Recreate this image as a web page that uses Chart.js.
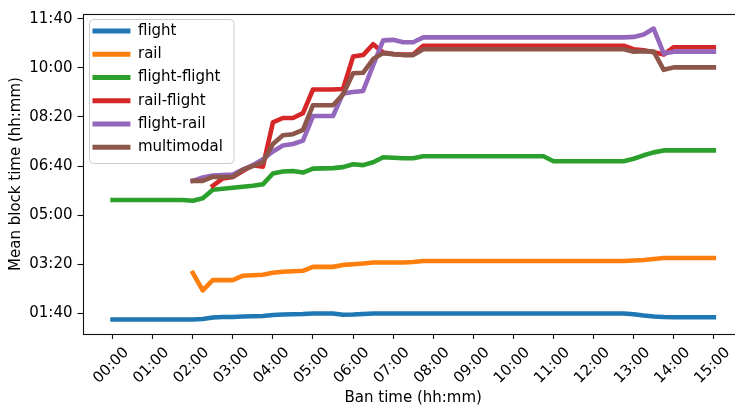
<!DOCTYPE html>
<html>
<head>
<meta charset="utf-8">
<script src="https://cdn.jsdelivr.net/npm/chart.js@4/dist/chart.umd.min.js"></script>
<style>
html,body{margin:0;padding:0;background:#fff;overflow:hidden;width:735px;height:408px}
canvas{display:block}
</style>
</head>
<body>
<canvas id="c" width="750" height="408"></canvas>
<script>
// ---- data ----
const banTimes = [
 '00:00','00:15','00:30','00:45','01:00','01:15','01:30','01:45',
 '02:00','02:15','02:30','02:45','03:00','03:15','03:30','03:45',
 '04:00','04:15','04:30','04:45','05:00','05:15','05:30','05:45',
 '06:00','06:15','06:30','06:45','07:00','07:15','07:30','07:45',
 '08:00','08:15','08:30','08:45','09:00','09:15','09:30','09:45',
 '10:00','10:15','10:30','10:45','11:00','11:15','11:30','11:45',
 '12:00','12:15','12:30','12:45','13:00','13:15','13:30','13:45',
 '14:00','14:15','14:30','14:45','15:00'
];
// mean block time in minutes
const flight = [
 88,88,88,88, 88,88,88,88,
 88,89,92,93, 93,94,94.5,95,
 97,98,98.5,99, 100,100,100,97.5,
 98,99,100,100, 100,100,100,100,
 100,100,100,100, 100,100,100,100,
 100,100,100,100, 100,100,100,100,
 100,100,100,100, 98.5,96,94,93,
 92.5,92.5,92.5,92.5, 92.5
];
const rail = [
 null,null,null,null, null,null,null,null,
 183,147,168,168, 168,177,178,179,
 183,185,186,187, 195,195,195,199,
 200.5,202,204,204, 204,204,205,207,
 207,207,207,207, 207,207,207,207,
 207,207,207,207, 207,207,207,207,
 207,207,207,207, 208,209,211,213,
 213,213,213,213, 213
];
const flightFlight = [
 331,331,331,331, 331,331,331,331,
 329.5,334.5,352,354, 356,358,360,363,
 385,389,390,387, 395,395.5,396,398,
 404,402,408,418, 417,416,416,420,
 420,420,420,420, 420,420,420,420,
 420,420,420,420, 410,410,410,410,
 410,410,410,410, 415,422,428,432,
 432,432,432,432, 432
];
const railFlight = [
 null,null,null,null, null,null,null,null,
 null,null,360,375, 378,390,402,399,
 489,498,498,508, 556,556,556,557,
 623,626,648,631, 628,627,627,645,
 645,645,645,645, 645,645,645,645,
 645,645,645,645, 645,645,645,645,
 645,645,645,645, 638,636,632,627,
 642,642,642,642, 642
];
const flightRail = [
 null,null,null,null, null,null,null,null,
 370,377,381,382, 383,393,402,414,
 430,442,445,452, 502,502,502,548,
 551,553,605,656, 657,652,652,662,
 662,662,662,662, 662,662,662,662,
 662,662,662,662, 662,662,662,662,
 662,662,662,662, 663,668,680,629,
 633,633,633,633, 633
];
const multimodal = [
 null,null,null,null, null,null,null,null,
 370,370,378,378, 378,393,400,408,
 445,463,465,474, 524,524,524,546,
 589,590,618,630, 628,626,626,638,
 638,638,638,638, 638,638,638,638,
 638,638,638,638, 638,638,638,638,
 638,638,638,638, 633,634,633,596,
 601,601,601,601, 601
];
const seriesNames = ['flight','rail','flight-flight','rail-flight','flight-rail','multimodal'];
const seriesValues = [flight, rail, flightFlight, railFlight, flightRail, multimodal];
const xTickLabels = ['00:00','01:00','02:00','03:00','04:00','05:00','06:00','07:00',
                     '08:00','09:00','10:00','11:00','12:00','13:00','14:00','15:00'];
const yTickLabels = ['01:40','03:20','05:00','06:40','08:20','10:00','11:40'];

// ---- styling ----
const colors = ['#1f77b4','#ff7f0e','#2ca02c','#d62728','#9467bd','#8c564b'];
const toMin = s => { const p = s.split(':').map(Number); return p[0]*60 + p[1]; };

const datasets = seriesNames.map((name, k) => ({
  label: name,
  data: banTimes.map((t, i) => ({x: toMin(t), y: seriesValues[k][i]})),
  borderColor: colors[k],
  backgroundColor: colors[k],
  borderWidth: 4.6,
  pointRadius: 0,
  pointHoverRadius: 0,
  tension: 0,
  fill: false,
  borderJoinStyle: 'round',
  borderCapStyle: 'square',
  order: seriesNames.length - k
}));

Chart.defaults.font.family = "'DejaVu Sans', sans-serif";
Chart.defaults.font.size = 15;
Chart.defaults.color = '#000';

const framePlugin = {
  id: 'frame',
  afterUpdate(chart) {
    const lg = chart.legend;
    if (lg) {
      lg.left = 84.2; lg.top = 15.2;
      lg.right = lg.left + lg.width; lg.bottom = lg.top + lg.height;
      if (lg.adjustHitBoxes) lg.adjustHitBoxes();
    }
  },
  beforeDraw(chart) {
    const ctx = chart.ctx;
    ctx.save();
    const x = 89.5, y = 19.5, w = 144.5, h = 144, r = 4;
    ctx.beginPath();
    ctx.moveTo(x + r, y);
    ctx.arcTo(x + w, y, x + w, y + h, r);
    ctx.arcTo(x + w, y + h, x, y + h, r);
    ctx.arcTo(x, y + h, x, y, r);
    ctx.arcTo(x, y, x + w, y, r);
    ctx.closePath();
    ctx.fillStyle = 'rgba(255,255,255,0.8)';
    ctx.fill();
    ctx.strokeStyle = '#cccccc';
    ctx.lineWidth = 1;
    ctx.stroke();
    ctx.restore();
  },
  afterDatasetsDraw(chart) {
    const {ctx, chartArea: a} = chart;
    ctx.save();
    ctx.strokeStyle = '#111';
    ctx.lineWidth = 1.1;
    ctx.strokeRect(Math.round(a.left) + 0.5, Math.round(a.top) + 0.5,
                   Math.round(a.right - a.left), Math.round(a.bottom - a.top));
    ctx.restore();
  }
};

new Chart(document.getElementById('c'), {
  type: 'line',
  data: { datasets },
  plugins: [framePlugin],
  options: {
    responsive: false,
    animation: false,
    devicePixelRatio: 1,
    layout: { padding: { left: 0, top: 11, right: 6.1, bottom: 0 } },
    plugins: {
      tooltip: { enabled: false },
      legend: {
        position: 'chartArea',
        align: 'start',
        labels: {
          boxWidth: 38,
          boxHeight: 5,
          padding: 8.26,
          color: '#000',
          font: { size: 15 },
          generateLabels(chart) {
            return chart.data.datasets.map((ds, i) => ({
              text: ds.label,
              fillStyle: ds.borderColor,
              strokeStyle: ds.borderColor,
              fontColor: '#000',
              lineWidth: 0,
              hidden: false,
              datasetIndex: i
            }));
          }
        }
      }
    },
    scales: {
      x: {
        type: 'linear',
        position: 'bottom',
        min: -45,
        max: 945,
        afterBuildTicks: s => { s.ticks = xTickLabels.map(l => ({value: toMin(l)})); },
        afterFit: s => { s.height = 74; },
        ticks: {
          autoSkip: false,
          minRotation: 45,
          maxRotation: 45,
          labelOffset: 14,
          padding: 5,
          font: { size: 15 },
          color: '#000',
          callback: (v, i) => xTickLabels[i]
        },
        grid: { display: true, drawOnChartArea: false, drawTicks: true, tickLength: 5, tickColor: '#111', tickWidth: 1.1 },
        border: { display: false },
        title: { display: true, text: 'Ban time (hh:mm)', font: { size: 15 }, color: '#000', padding: { top: 0, bottom: 1 } }
      },
      y: {
        type: 'linear',
        min: 58.4,
        max: 709.6,
        afterBuildTicks: s => { s.ticks = yTickLabels.map(l => ({value: toMin(l)})); },
        afterFit: s => { s.width = 82.5; },
        ticks: {
          autoSkip: false,
          padding: 5,
          font: { size: 15 },
          color: '#000',
          callback: (v, i) => yTickLabels[i]
        },
        grid: { display: true, drawOnChartArea: false, drawTicks: true, tickLength: 5, tickColor: '#111', tickWidth: 1.1 },
        border: { display: false },
        title: { display: true, text: 'Mean block time (hh:mm)', font: { size: 15 }, color: '#000', padding: { top: 7, bottom: 0 } }
      }
    }
  }
});
</script>
</body>
</html>
